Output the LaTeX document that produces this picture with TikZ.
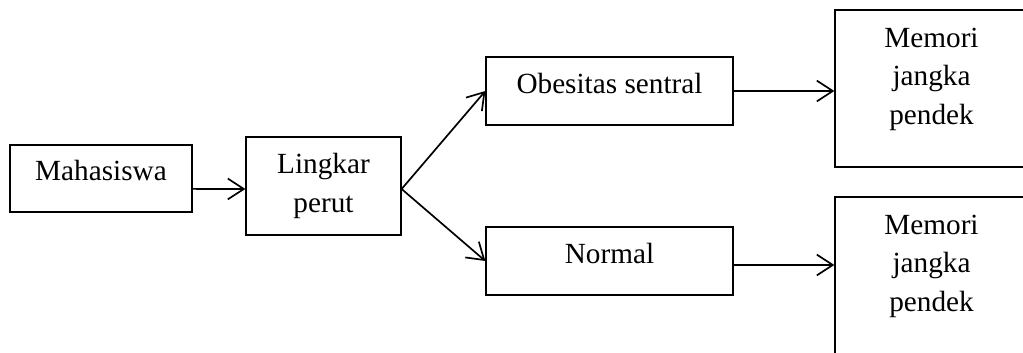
\documentclass[tikz,border=0pt]{standalone}
\usepackage{fontspec}
\setmainfont{Liberation Serif}
\usetikzlibrary{calc,positioning,arrows.meta}
\tikzset{
	kotak/.style={draw, line width=0.9pt, inner sep=0pt, font=\fontsize{20.8}{27.5}\selectfont},
	satu/.style={kotak, text height=0.7em, text depth=0.36em},
	teks/.style={inner sep=0pt, align=center, font=\fontsize{20.8}{27.5}\selectfont},
	panah/.style={line width=1.2pt, -{Straight Barb[length=0.4cm, width=0.52cm, line width=1.2pt]}}
}

\begin{document}
\begin{tikzpicture}
			%%%%% START %%%%%
			\useasboundingbox (0, 0) rectangle (25.575, 8.8);
			\clip (0, 0) rectangle (25.575, 8.8);
			
			\node[satu, minimum width=4.55cm, minimum height=1.675cm] (maha) at (2.525, 4.3375) {Mahasiswa};
			\node[kotak, align=center, minimum width=3.875cm, minimum height=2.45cm] (lingkar) at (8.0875, 4.15) {Lingkar\\perut};
			
			\node[satu, minimum width=6.175cm, minimum height=1.7cm] (obes) at (15.2375, 6.525) {Obesitas sentral};
			\node[satu, minimum width=6.175cm, minimum height=1.7cm] (normal) at (15.2375, 2.275) {Normal};
			
			\node[kotak, minimum width=4.825cm, minimum height=3.925cm] (mem1) at (23.2875, 6.5875) {};
			\node[teks, anchor=north] (memtxt1) at ($(mem1.north)+(0, -0.45)$) {Memori\\jangka\\pendek};
			\node[kotak, minimum width=4.825cm, minimum height=4.1cm] (mem2) at (23.2875, 1.825) {};
			\node[teks, anchor=north] (memtxt2) at ($(mem2.north)+(0, -0.45)$) {Memori\\jangka\\pendek};
			
			\draw[panah] ($(maha.east)+(0, -0.26)$) -- ($(lingkar.west)+(0, -0.075)$);
			\draw[panah] ($(lingkar.east)+(0, -0.075)$) -- (obes.west);
			\draw[panah] ($(lingkar.east)+(0, -0.075)$) -- (normal.west);
			
			\draw[panah] (obes.east) -- (obes.east -| mem1.west);
			\coordinate (n1) at ($(normal.east)+(0, -0.1)$);
			\draw[panah] (n1) -- (n1 -| mem2.west);
			%%%%% END %%%%%
\end{tikzpicture}
\end{document}
